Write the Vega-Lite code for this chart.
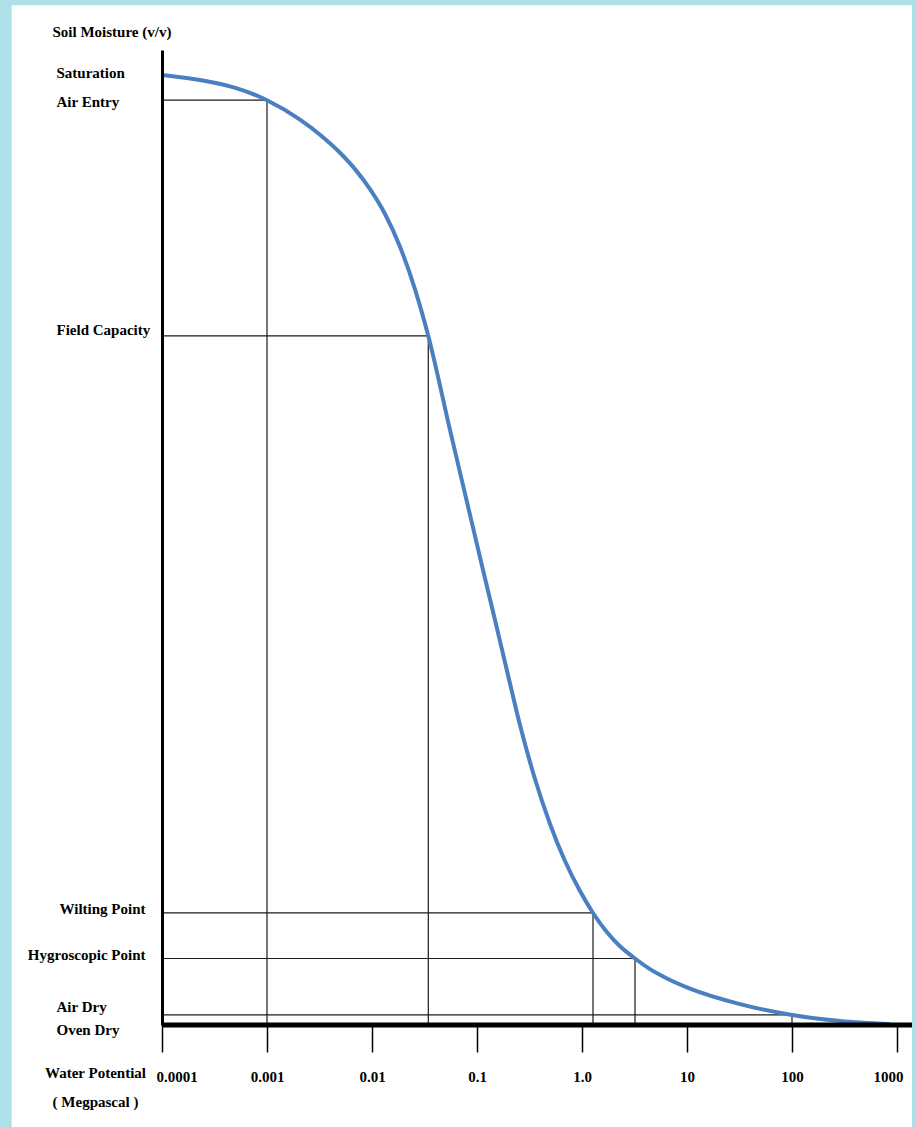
{
  "$schema": "https://vega.github.io/schema/vega-lite/v6.json",
  "width": 735,
  "height": 975,
  "autosize": {"type": "none"},
  "padding": {"left": 162, "top": 50, "right": 19, "bottom": 102},
  "background": "#aee0e8",
  "config": {"view": {"stroke": null}, "font": "Liberation Serif"},
  "datasets": {
    "curve": [
      {"wp": 0.0001, "m": 0.9744},
      {"wp": 0.0001848, "m": 0.9708},
      {"wp": 0.0003341, "m": 0.9659},
      {"wp": 0.0005531, "m": 0.9597},
      {"wp": 0.001, "m": 0.9485},
      {"wp": 0.002062, "m": 0.9286},
      {"wp": 0.003197, "m": 0.9131},
      {"wp": 0.004957, "m": 0.8946},
      {"wp": 0.006887, "m": 0.8778},
      {"wp": 0.009572, "m": 0.8572},
      {"wp": 0.0133, "m": 0.8318},
      {"wp": 0.01848, "m": 0.7983},
      {"wp": 0.02568, "m": 0.7545},
      {"wp": 0.03437, "m": 0.7067},
      {"wp": 0.05532, "m": 0.6103},
      {"wp": 0.07943, "m": 0.5385},
      {"wp": 0.1141, "m": 0.4667},
      {"wp": 0.1484, "m": 0.4154},
      {"wp": 0.1973, "m": 0.359},
      {"wp": 0.2567, "m": 0.3077},
      {"wp": 0.3567, "m": 0.2523},
      {"wp": 0.4957, "m": 0.2062},
      {"wp": 0.6887, "m": 0.1682},
      {"wp": 0.9572, "m": 0.1374},
      {"wp": 1.273, "m": 0.1149},
      {"wp": 1.73, "m": 0.0951},
      {"wp": 2.301, "m": 0.0807},
      {"wp": 3.198, "m": 0.0682},
      {"wp": 4.443, "m": 0.0573},
      {"wp": 6.45, "m": 0.0477},
      {"wp": 10.68, "m": 0.0373},
      {"wp": 31.98, "m": 0.0214},
      {"wp": 100, "m": 0.0103},
      {"wp": 286.5, "m": 0.0041},
      {"wp": 857.9, "m": 0.001}
    ],
    "levels": [
      {"level": "Air Entry", "wp": 0.001, "m": 0.9485},
      {"level": "Field Capacity", "wp": 0.03437, "m": 0.7067},
      {"level": "Wilting Point", "wp": 1.273, "m": 0.1149},
      {"level": "Hygroscopic Point", "wp": 3.198, "m": 0.0682},
      {"level": "Air Dry", "wp": 100, "m": 0.0103}
    ],
    "frame": [{"x0": 0.0000037, "x1": 1390, "y0": -0.105, "y1": 1.046}]
  },
  "layer": [
    {
      "data": {"name": "frame"},
      "mark": {"type": "rect", "fill": "white"},
      "encoding": {
        "x": {"field": "x0", "type": "quantitative"},
        "x2": {"field": "x1"},
        "y": {"field": "y0", "type": "quantitative"},
        "y2": {"field": "y1"}
      }
    },
    {
      "data": {"name": "levels"},
      "mark": {"type": "rule", "color": "#1a1a1a", "strokeWidth": 1.2},
      "encoding": {
        "x": {"field": "wp", "type": "quantitative"},
        "y": {"field": "m", "type": "quantitative"},
        "y2": {"datum": 0}
      }
    },
    {
      "data": {"name": "levels"},
      "mark": {"type": "rule", "color": "#1a1a1a", "strokeWidth": 1.2},
      "encoding": {
        "x": {"field": "wp", "type": "quantitative"},
        "x2": {"datum": 0.0001},
        "y": {"field": "m", "type": "quantitative"}
      }
    },
    {
      "data": {"name": "curve"},
      "mark": {"type": "line", "color": "#4a7fc1", "strokeWidth": 4, "interpolate": "monotone"},
      "encoding": {
        "x": {
          "field": "wp",
          "type": "quantitative",
          "scale": {"type": "log", "domain": [0.0001, 1000], "nice": false},
          "axis": {
            "values": [0.0001, 0.001, 0.01, 0.1, 1, 10, 100, 1000],
            "labelExpr": "datum.value == 1 ? '1.0' : (datum.value < 1 ? format(datum.value, '~g') : format(datum.value, 'd'))",
            "domain": false,
            "grid": false,
            "ticks": true,
            "tickSize": 27,
            "tickWidth": 1.5,
            "tickColor": "black",
            "labelPadding": 17,
            "labelFont": "Liberation Serif",
            "labelFontWeight": "bold",
            "labelFontSize": 15,
            "labelColor": "black",
            "labelFlush": true,
            "labelFlushOffset": 6,
            "labelOverlap": false,
            "title": ["Water Potential", "( Megpascal )"],
            "titleX": -67,
            "titleY": 40,
            "titleAlign": "center",
            "titleBaseline": "top",
            "titleFont": "Liberation Serif",
            "titleFontSize": 15,
            "titleFontWeight": "bold",
            "titleColor": "black",
            "titleLineHeight": 29,
            "zindex": 1
          }
        },
        "y": {
          "field": "m",
          "type": "quantitative",
          "scale": {"domain": [0, 1], "nice": false, "zero": false},
          "axis": {
            "values": [0.977, 0.947, 0.713, 0.12, 0.072, 0.0185, 0],
            "labelExpr": "datum.value > 0.96 ? 'Saturation' : datum.value > 0.9 ? 'Air Entry' : datum.value > 0.5 ? 'Field Capacity' : datum.value > 0.1 ? 'Wilting Point' : datum.value > 0.05 ? 'Hygroscopic Point' : datum.value > 0.01 ? 'Air Dry' : 'Oven Dry'",
            "domain": true,
            "domainColor": "black",
            "domainWidth": 3,
            "grid": false,
            "ticks": false,
            "labelAlign": {"condition": {"test": "datum.value > 0.5 || datum.value < 0.05", "value": "left"}, "value": "right"},
            "labelPadding": {"condition": {"test": "datum.value > 0.5 || datum.value < 0.05", "value": 106}, "value": 17},
            "labelOffset": {"condition": {"test": "datum.value < 0.001", "value": 4}, "value": 0},
            "labelBaseline": "middle",
            "labelFont": "Liberation Serif",
            "labelFontWeight": "bold",
            "labelFontSize": 15,
            "labelColor": "black",
            "labelFlush": false,
            "labelOverlap": false,
            "labelLimit": 300,
            "title": "Soil Moisture (v/v)",
            "titleAngle": 0,
            "titleX": -110,
            "titleY": -19,
            "titleAlign": "left",
            "titleBaseline": "middle",
            "titleFont": "Liberation Serif",
            "titleFontSize": 15,
            "titleFontWeight": "bold",
            "titleColor": "black",
            "zindex": 1
          }
        }
      }
    },
    {
      "data": {"name": "frame"},
      "mark": {"type": "rule", "color": "black", "strokeWidth": 5},
      "encoding": {
        "x": {"field": "x1", "type": "quantitative"},
        "x2": {"datum": 0.0001},
        "y": {"datum": 0, "type": "quantitative"}
      }
    }
  ]
}
